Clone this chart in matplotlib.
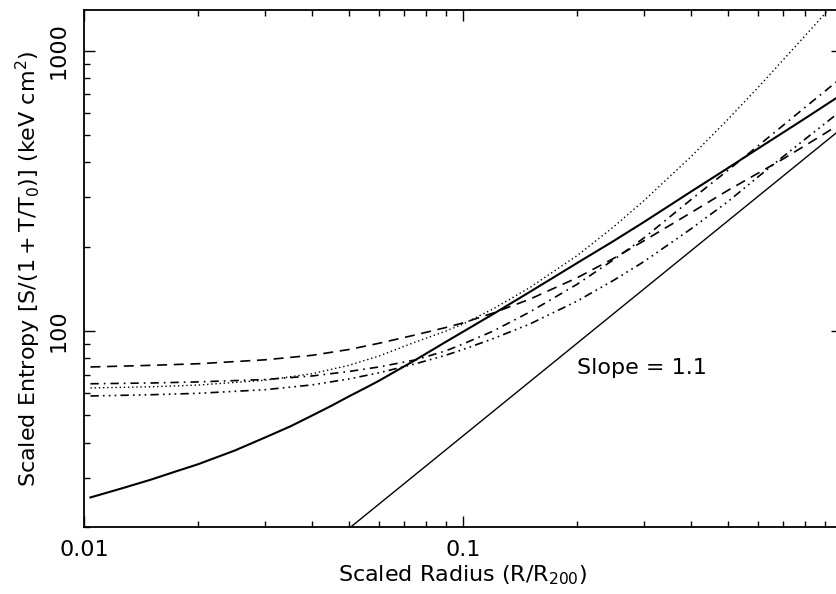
import numpy as np
import matplotlib.pyplot as plt

# Radial entropy profiles: scaled radius vs scaled entropy
r = [0.0104, 0.015, 0.02, 0.03, 0.04, 0.05, 0.06, 0.075, 0.09, 0.1, 0.12,
     0.15, 0.2, 0.25, 0.3, 0.4, 0.5, 0.6, 0.7, 0.8, 0.9, 1.0]

s_dash = [74.5, 75.5, 76.5, 79.0, 82.0, 86.0, 90.5, 97.0, 103, 107, 116,
          130, 155, 182, 210, 265, 318, 366, 412, 460, 507, 555]
s_dot = [62.7, 63.3, 64.2, 66.8, 70.5, 75.5, 81.5, 91.5, 100, 106, 120,
         143, 186, 236, 292, 420, 570, 740, 930, 1135, 1355, 1590]
s_dashdot = [64.9, 65.3, 65.9, 67.2, 69.2, 71.8, 74.5, 79.0, 85.0, 90.0, 100,
             117, 147, 180, 215, 295, 375, 458, 543, 630, 717, 805]
s_dash3 = [58.7, 59.3, 60.0, 61.8, 64.3, 67.5, 71.0, 76.5, 82.0, 86.0, 94.0,
           106, 128, 152, 177, 232, 290, 355, 420, 485, 550, 615]

# best-fit profile, sampled more finely at small radius
r_fit = [0.0104, 0.0125, 0.015, 0.0175, 0.02, 0.025, 0.03, 0.035, 0.04, 0.045,
         0.05, 0.055, 0.06, 0.075, 0.09, 0.1, 0.12, 0.15, 0.2, 0.25, 0.3, 0.4,
         0.5, 0.6, 0.7, 0.8, 0.9, 1.0]
s_fit = [25.5, 27.4, 29.5, 31.6, 33.5, 37.5, 41.7, 45.7, 50.0, 54.2,
         58.5, 62.5, 66.5, 79.0, 91.5, 99.5, 115, 138, 175, 210, 245, 315,
         382, 448, 512, 575, 638, 700]

# reference power law of slope 1.1
r_slope = [0.0508, 1.0]
s_slope = [20.1, 530]

plt.rcParams['font.family'] = 'DejaVu Sans'
plt.rcParams['font.size'] = 16

fig = plt.figure(figsize=(8.37, 5.94), dpi=100)
ax = fig.add_axes([84 / 837, 67 / 594, 758 / 837, 517 / 594])

ax.plot(r_fit, s_fit, color='black', lw=1.5)
ax.plot(r_slope, s_slope, color='black', lw=1.0)
ax.plot(r, s_dash, color='black', lw=1.2, dashes=(6, 4))
ax.plot(r, s_dot, color='black', lw=1.0, dashes=(1, 2))
ax.plot(r, s_dashdot, color='black', lw=1.2, dashes=(5, 3, 1, 3))
ax.plot(r, s_dash3, color='black', lw=1.2, dashes=(5, 2.5, 1, 2.5, 1, 2.5, 1, 2.5))

ax.set_xscale('log')
ax.set_yscale('log')
ax.set_xlim(0.01, 1.0)
ax.set_ylim(20, 1400)

ax.set_xticks([0.01, 0.1])
ax.set_xticklabels(['0.01', '0.1'])
ax.set_yticks([100, 1000])
ax.set_yticklabels(['100', '1000'], rotation=90, va='center')

ax.tick_params(which='both', direction='in', top=True, right=True, width=1.0)
ax.tick_params(which='major', length=8, pad=9)
ax.tick_params(axis='y', which='major', pad=11)
ax.tick_params(which='minor', length=4.5)
for sp in ax.spines.values():
    sp.set_linewidth(1.3)

ax.text(0.2, 74, 'Slope = 1.1', ha='left', va='center')

ax.set_xlabel(r'Scaled Radius (R/R$_{200}$)', labelpad=3)
ax.set_ylabel(r'Scaled Entropy $\left[\mathrm{S/(1+T/T_0)}\right]$ (keV cm$^2$)', labelpad=4)

fig.savefig('out.png', dpi=100)
